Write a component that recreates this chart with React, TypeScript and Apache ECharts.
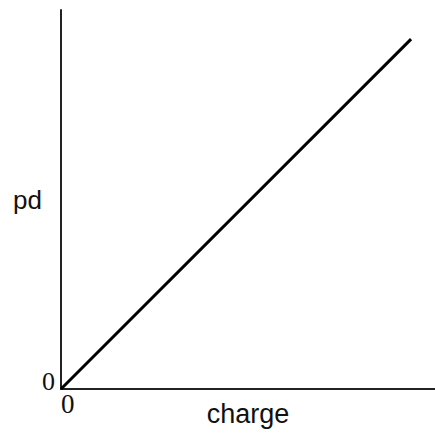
import React, { useEffect, useRef } from "react";
import * as echarts from "echarts";

const charge = [0, 93.6];
const pd = [0, 92.3];
const tickLabels = ["0"];

export default function App() {
  const ref = useRef<HTMLDivElement>(null);
  useEffect(() => {
    document.body.style.margin = "0";
    const chart = echarts.init(ref.current!, null, { renderer: "svg" });
    chart.setOption({
      animation: false,
      backgroundColor: "#ffffff",
      grid: { left: 61, top: 10, width: 374, height: 379, outerBoundsMode: "none", containLabel: false },
      xAxis: {
        type: "value",
        min: 0,
        max: 100,
        name: "charge",
        nameLocation: "middle",
        nameGap: 11,
        nameMoveOverlap: false,
        nameTextStyle: { fontFamily: "Liberation Sans", fontSize: 27, color: "#111", verticalAlign: "top" },
        axisLine: { show: true, lineStyle: { color: "#222", width: 2 } },
        axisTick: { show: false },
        splitLine: { show: false },
        axisLabel: {
          customValues: [0],
          formatter: () => tickLabels[0],
          align: "left",
          margin: 1,
          fontFamily: "Liberation Serif",
          fontSize: 27,
          color: "#111",
        },
      },
      yAxis: {
        type: "value",
        min: 0,
        max: 100,
        name: "pd",
        nameLocation: "middle",
        nameRotate: 0,
        nameGap: 19,
        nameMoveOverlap: false,
        nameTextStyle: { fontFamily: "Liberation Sans", fontSize: 26, color: "#111", align: "right" },
        axisLine: { show: true, lineStyle: { color: "#222", width: 2 } },
        axisTick: { show: false },
        splitLine: { show: false },
        axisLabel: {
          customValues: [0],
          formatter: () => tickLabels[0],
          verticalAlign: "bottom",
          lineHeight: 16,
          margin: 6,
          fontFamily: "Liberation Serif",
          fontSize: 26,
          color: "#111",
        },
      },
      series: [
        {
          type: "line",
          data: charge.map((c, i) => [c, pd[i]]),
          symbol: "none",
          lineStyle: { color: "#000", width: 3 },
        },
      ],
    });
    return () => chart.dispose();
  }, []);
  return <div ref={ref} style={{ width: 435, height: 436 }} />;
}
